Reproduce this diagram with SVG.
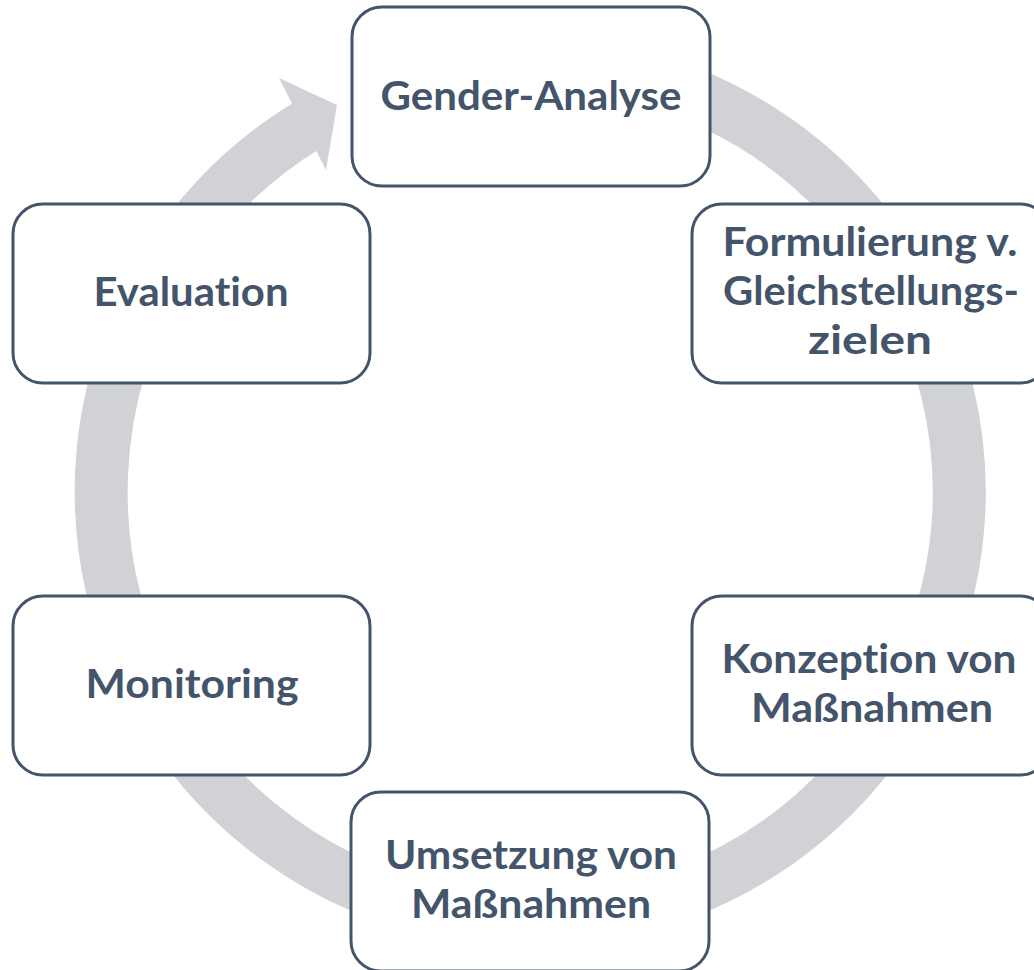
<svg xmlns="http://www.w3.org/2000/svg" width="1034" height="970" viewBox="0 0 1034 970">
  <style>
    .box { fill: #ffffff; stroke: #44546A; stroke-width: 3; }
    .label { font-family: Lato, "Open Sans", "Liberation Sans", sans-serif; font-weight: 700; font-size: 41px; fill: #44546A; text-anchor: middle; font-variant-ligatures: none; }
    .cycle { fill: none; stroke: #D0D2D6; stroke-width: 53; stroke-linecap: butt; }
    .cycle-head { fill: #D0D2D6; stroke: none; }
  </style>
  <rect width="1034" height="970" fill="#ffffff"/>

  <!-- circular cycle arrow, running clockwise behind the boxes -->
  <g id="connectors">
    <path class="cycle" d="M 455.5 69.5 A 429 429 0 1 1 309.1 124.3"/>
    <polygon class="cycle-head" points="279,78 337,105 326,170"/>
  </g>

  <g id="node-gender-analyse">
    <rect class="box" x="352" y="7" width="358" height="179" rx="30" ry="30"/>
    <text class="label" x="531" y="110" textLength="301" lengthAdjust="spacingAndGlyphs">Gender-Analyse</text>
  </g>

  <g id="node-formulierung">
    <rect class="box" x="692" y="204" width="358" height="179" rx="30" ry="30"/>
    <text class="label" x="870" y="256" textLength="295" lengthAdjust="spacingAndGlyphs">Formulierung v.</text>
    <text class="label" x="871" y="305" textLength="296" lengthAdjust="spacingAndGlyphs">Gleichstellungs-</text>
    <text class="label" x="870" y="354" textLength="124" lengthAdjust="spacingAndGlyphs">zielen</text>
  </g>

  <g id="node-konzeption">
    <rect class="box" x="692" y="596" width="358" height="179" rx="30" ry="30"/>
    <text class="label" x="869" y="673" textLength="295" lengthAdjust="spacingAndGlyphs">Konzeption von</text>
    <text class="label" x="872" y="722" textLength="242" lengthAdjust="spacingAndGlyphs">Maßnahmen</text>
  </g>

  <g id="node-umsetzung">
    <rect class="box" x="351" y="792" width="358" height="179" rx="30" ry="30"/>
    <text class="label" x="531" y="869" textLength="292" lengthAdjust="spacingAndGlyphs">Umsetzung von</text>
    <text class="label" x="531" y="918" textLength="240" lengthAdjust="spacingAndGlyphs">Maßnahmen</text>
  </g>

  <g id="node-monitoring">
    <rect class="box" x="13" y="596" width="357" height="179" rx="30" ry="30"/>
    <text class="label" x="192" y="698" textLength="213" lengthAdjust="spacingAndGlyphs">Monitoring</text>
  </g>

  <g id="node-evaluation">
    <rect class="box" x="13" y="204" width="357" height="179" rx="30" ry="30"/>
    <text class="label" x="191" y="306" textLength="195" lengthAdjust="spacingAndGlyphs">Evaluation</text>
  </g>
</svg>
